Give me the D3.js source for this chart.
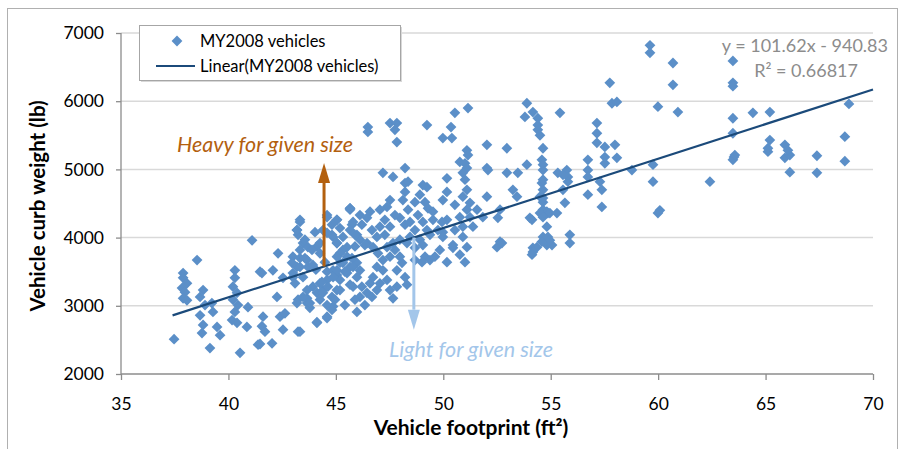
<!DOCTYPE html>
<html>
<head>
<meta charset="utf-8">
<script src="https://cdn.jsdelivr.net/npm/d3@7"></script>
<style>
  body { margin: 0; background: #fff; }
  svg { display: block; font-family: Lato, "Open Sans", sans-serif; }
</style>
</head>
<body>
<svg id="chart" width="901" height="449"></svg>
<script>
// footprint (ft2) and curb weight (lb)
const footprint = [
  37.47,37.89,37.89,38.07,37.84,37.98,37.89,38.07,38.54,38.82,38.68,38.91,38.68,38.82,38.77,39.14,39.23,39.28,39.47,39.61,
  40.30,40.30,40.21,40.40,40.21,40.44,40.30,40.17,40.40,40.91,40.86,40.54,41.56,41.10,41.61,41.56,41.70,41.47,41.38,42.03,
  42.07,42.31,42.26,41.47,
  43.33,43.19,43.24,43.47,43.33,43.00,43.33,43.66,42.96,43.19,43.70,43.93,43.00,43.47,43.10,42.54,42.40,42.63,42.54,43.24,
  43.24,43.66,43.79,44.12,43.66,44.12,44.40,44.26,44.59,44.59,44.87,44.82,45.05,44.12,44.26,44.59,44.87,45.05,45.19,45.52,
  45.66,44.87,45.05,45.33,45.52,45.19,44.59,45.05,45.66,45.75,45.98,45.89,45.98,45.80,
  46.49,46.49,47.52,47.84,47.75,47.84,49.24,50.54,51.15,50.36,49.98,50.40,51.10,51.15,50.77,51.01,51.10,50.91,52.03,52.03,
  48.22,47.19,47.66,50.17,52.96,54.50,54.64,54.40,48.22,49.24,50.17,51.01,51.10,50.91,51.24,51.10,50.77,51.24,51.38,50.91,
  50.91,51.10,50.77,51.01,50.45,49.98,50.17,49.98,52.08,52.03,51.57,51.84,52.96,53.47,53.89,53.24,53.43,52.64,52.54,52.64,
  52.50,54.59,54.64,54.59,54.50,54.64,54.64,54.87,54.03,54.82,54.64,54.87,54.17,54.82,55.33,
  48.22,49.05,49.15,49.29,48.68,48.36,48.12,47.52,47.38,47.05,47.28,47.05,46.59,46.45,46.12,45.66,45.80,46.21,46.68,46.91,
  47.52,47.98,48.22,48.45,49.05,49.52,49.24,48.68,48.45,48.91,49.05,49.15,49.38,49.01,48.68,48.31,47.98,47.66,47.38,47.52,
  47.19,46.96,46.73,46.45,46.12,45.89,45.66,45.33,45.19,45.05,44.82,44.59,44.40,44.82,45.05,45.19,45.52,45.75,45.80,46.12,
  45.98,46.21,46.12,46.45,46.59,46.73,46.91,47.19,47.05,46.91,46.68,47.38,47.52,47.84,48.08,48.22,48.31,47.84,47.66,47.98,
  45.33,45.05,44.87,44.63,44.40,44.26,44.59,44.82,44.59,44.12,43.33,43.79,43.47,43.19,43.00,43.33,43.56,43.70,43.19,43.33,
  43.89,44.26,44.59,45.05,44.35,43.93,43.66,48.36,45.66,49.61,50.17,50.45,49.98,49.75,49.94,49.52,
  44.07,44.49,45.42,45.66,45.19,44.96,45.42,45.89,46.35,45.98,46.35,47.28,47.75,48.82,49.38,47.75,48.68,49.84,50.54,50.54,
  48.91,43.56,44.03,
  57.75,60.69,57.85,58.08,59.99,60.92,53.89,53.80,54.17,54.40,54.40,55.43,57.15,57.15,57.15,57.52,57.99,57.52,57.52,58.08,
  54.64,56.73,56.73,56.73,55.75,55.80,55.57,55.57,55.80,58.78,59.76,59.76,54.64,54.64,54.64,54.82,54.50,54.96,55.29,54.64,
  56.73,57.29,57.38,57.38,55.66,55.89,55.89,54.87,55.06,54.59,54.36,54.17,54.13,54.13,52.73,60.08,59.99,54.96,
  59.62,59.62,60.69,63.48,63.48,63.48,63.48,64.41,65.20,63.48,65.20,65.11,65.90,65.90,66.13,66.13,67.39,67.39,68.69,68.69,
  68.88,63.53,63.48,63.57,62.41,65.11,66.04
];
const curbWeight = [
  2510,3480,3410,3330,3260,3200,3110,3080,3670,3230,3130,3010,2860,2720,2600,2380,3040,2910,2690,2570,
  3520,3410,3280,3190,3090,3010,2910,2790,2750,2980,2690,2310,3480,3960,2840,2700,2620,2440,2430,2450,
  3520,3770,3130,3500,
  4230,4110,4040,3920,3820,3720,3700,3670,3630,3570,3570,3600,3480,3420,3330,3410,2840,2890,2650,2620,
  3090,3040,2970,2750,3110,3190,3230,3330,3380,2820,2990,3130,3230,3870,3770,3500,3520,3450,3380,3480,
  3570,4010,3920,3820,3720,3630,4330,4260,4430,4190,4040,3870,3630,3280,
  5620,5550,5680,5680,5580,5400,5650,5830,5900,5620,5460,5460,5280,5210,5110,5090,5020,4950,5360,5020,
  5020,4950,4890,4870,5310,5500,5310,5580,4800,4740,4670,4850,4700,4600,4510,4410,4300,4300,4160,4160,
  4010,3860,3750,3640,3850,4080,4260,4550,4990,4600,4410,4300,4950,4950,5070,4700,4600,4410,4290,3940,
  3860,4800,4990,5140,4600,4520,4410,4360,4290,4160,4010,3960,3850,3890,4950,
  4670,4770,4520,4430,4520,4410,4550,4550,4450,4410,4260,4160,4380,4290,4330,4410,4230,4190,4110,4010,
  4160,4290,4190,4230,4230,4260,4110,4110,4010,3970,3890,3720,3670,3640,3850,3920,3970,3920,3860,3720,
  3670,3770,3860,3920,3970,4040,4110,4010,4140,4260,4190,4300,4110,4040,3920,3770,3860,3700,3570,3520,
  3420,3280,3130,3190,3330,3420,3570,3520,3330,3230,3130,3380,3230,3520,3630,3420,3310,3280,3110,3720,
  3630,3520,3420,3280,3190,3090,3010,2940,2840,2760,2620,3040,3130,3040,3420,3570,3700,3860,4110,4260,
  3820,3920,4070,3720,3350,3280,3230,4820,4430,3720,3640,3890,4010,4110,4230,4380,
  3530,3640,3500,3310,3230,3090,3010,3090,3010,2910,3890,4040,4330,4330,4040,3820,3670,3820,4110,4480,
  4630,3970,4080,
  6270,6240,5970,5990,5920,5840,5970,5770,5840,5750,5650,5830,5680,5530,5390,5330,5360,5180,5090,5170,
  5070,5140,4990,4890,4990,4890,4920,4700,4820,4990,5070,4820,4850,4700,4580,4380,4360,4360,4360,4300,
  4630,4820,4700,4450,4510,4040,3920,4010,3890,3940,3860,3790,3750,4260,3920,4400,4360,3960,
  6820,6710,6560,6590,6270,6220,5750,5830,5840,5530,5430,5260,5360,5170,5210,4960,5200,4950,5480,5120,
  5960,5180,5140,5210,4820,5310,5280
];
const xTicks = [35, 40, 45, 50, 55, 60, 65, 70];
const yTicks = [2000, 3000, 4000, 5000, 6000, 7000];
const slope = 101.62, intercept = -940.83;
const trendRange = [37.4, 70];
const heavyArrow = { x: 44.45, from: 3576, to: 5094 };
const lightArrow = { x: 48.63, from: 4001, to: 2650 };

const svg = d3.select("#chart");
const x = d3.scaleLinear().domain([35, 70]).range([121, 873]);
const y = d3.scaleLinear().domain([2000, 7000]).range([374, 33]);

// outer chart frame
svg.append("rect").attr("x", 7.5).attr("y", 8.5).attr("width", 890).attr("height", 450)
  .attr("fill", "none").attr("stroke", "#b0b0b0").attr("stroke-width", 1);

// gridlines
svg.append("g").selectAll("line").data(yTicks.slice(1)).join("line")
  .attr("x1", x(35)).attr("x2", x(70))
  .attr("y1", d => y(d)).attr("y2", d => y(d))
  .attr("stroke", "#d9d9d9").attr("stroke-width", 1.5);

// axes
const yAxis = svg.append("g").attr("transform", `translate(${x(35)},0)`)
  .call(d3.axisLeft(y).tickValues(yTicks).tickSize(5).tickPadding(12).tickFormat(d3.format("d")));
const xAxis = svg.append("g").attr("transform", `translate(0,${y(2000)})`)
  .call(d3.axisBottom(x).tickValues(xTicks).tickSize(6).tickPadding(18));
[xAxis, yAxis].forEach(g => {
  g.selectAll("path, line").attr("stroke", "#8c8c8c").attr("stroke-width", 1.3);
  g.select(".domain").attr("d", g === xAxis ? `M${x(35)},0H${x(70)}` : `M0,${y(2000)}V${y(7000)}`);
  g.selectAll("text").attr("fill", "#000").style("font-size", "17.5px").style("font-family", "Lato, sans-serif");
});

// points
const pts = footprint.map((f, i) => ({ f, w: curbWeight[i] }));
const diamond = d3.symbol().type(d3.symbolSquare).size(58);
svg.append("g").selectAll("path").data(pts).join("path")
  .attr("d", diamond)
  .attr("transform", d => `translate(${x(d.f)},${y(d.w)}) rotate(45)`)
  .attr("fill", "#5b8fc8");

// trendline
svg.append("line")
  .attr("x1", x(trendRange[0])).attr("y1", y(slope * trendRange[0] + intercept))
  .attr("x2", x(trendRange[1])).attr("y2", y(slope * trendRange[1] + intercept))
  .attr("stroke", "#1b4a7a").attr("stroke-width", 2.2);

// annotation arrows
function arrow(a, color) {
  const up = a.to > a.from;
  const tipY = y(a.to), baseY = tipY + (up ? 20 : -20);
  svg.append("line").attr("x1", x(a.x)).attr("x2", x(a.x))
    .attr("y1", y(a.from)).attr("y2", baseY)
    .attr("stroke", color).attr("stroke-width", 3);
  svg.append("path")
    .attr("d", `M${x(a.x) - 6},${baseY}L${x(a.x)},${tipY}L${x(a.x) + 6},${baseY}Z`)
    .attr("fill", color);
}
arrow(heavyArrow, "#b3600f");
arrow(lightArrow, "#a3c6ea");

svg.append("text").attr("x", 265).attr("y", 152).attr("text-anchor", "middle")
  .style("font-size", "21.5px").style("font-style", "italic").attr("fill", "#b3600f")
  .text("Heavy for given size");
svg.append("text").attr("x", 471).attr("y", 357).attr("text-anchor", "middle")
  .style("font-size", "21.5px").style("font-style", "italic").attr("fill", "#a3c6ea")
  .text("Light for given size");

// equation
svg.append("text").attr("x", 888).attr("y", 52).attr("text-anchor", "end")
  .style("font-size", "18px").attr("fill", "#8c8c8c").text("y = 101.62x - 940.83");
svg.append("text").attr("x", 858).attr("y", 77).attr("text-anchor", "end")
  .style("font-size", "18px").attr("fill", "#8c8c8c").text("R² = 0.66817");

// axis titles
svg.append("text").attr("x", 471).attr("y", 435).attr("text-anchor", "middle")
  .style("font-size", "21px").style("font-weight", "bold")
  .text("Vehicle footprint (ft²)");
svg.append("text").attr("transform", "translate(45,206) rotate(-90)").attr("text-anchor", "middle")
  .style("font-size", "20.5px").style("font-weight", "bold")
  .text("Vehicle curb weight (lb)");

// legend
const legend = svg.append("g").attr("transform", "translate(139,25)");
legend.append("rect").attr("x", 2).attr("y", 2).attr("width", 261).attr("height", 55).attr("fill", "#d8d8d8");
legend.append("rect").attr("x", 0.5).attr("y", 0.5).attr("width", 261).attr("height", 55)
  .attr("fill", "#fff").attr("stroke", "#a6a6a6");
legend.append("path").attr("d", diamond).attr("transform", "translate(38,16) rotate(45)").attr("fill", "#5b8fc8");
legend.append("line").attr("x1", 17).attr("x2", 56).attr("y1", 41).attr("y2", 41)
  .attr("stroke", "#1b4a7a").attr("stroke-width", 2.2);
legend.append("text").attr("x", 61).attr("y", 22).style("font-size", "16.5px").text("MY2008 vehicles");
legend.append("text").attr("x", 61).attr("y", 47).style("font-size", "16.5px").text("Linear(MY2008 vehicles)");
</script>
</body>
</html>
